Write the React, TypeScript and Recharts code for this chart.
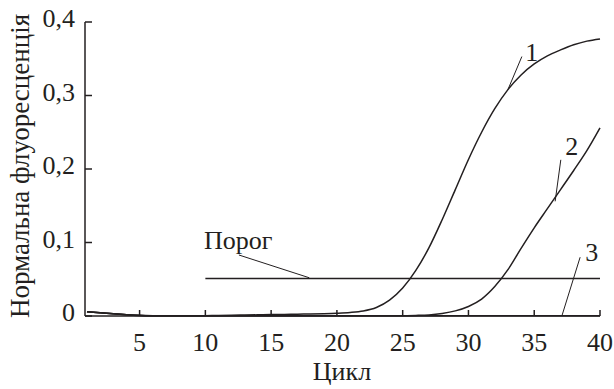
import React from 'react';
import { LineChart, Line, XAxis, YAxis, ReferenceLine, ReferenceDot, Label } from 'recharts';

const cycles = Array.from({ length: 40 }, (_, i) => i + 1);

const curve1 = [
  0.0058, 0.0045, 0.0031, 0.0018, 0.0009, 0.0004, 0.0002, 0.0002, 0.0003, 0.0005,
  0.0008, 0.001, 0.0013, 0.0016, 0.0019, 0.0022, 0.0025, 0.0028, 0.0032, 0.0038,
  0.0048, 0.0068, 0.0115, 0.0215, 0.038, 0.062, 0.093, 0.131, 0.172, 0.213,
  0.25, 0.282, 0.308, 0.328, 0.343, 0.354, 0.362, 0.369, 0.374, 0.377,
];

const curve2 = [
  0.0058, 0.0045, 0.003, 0.0017, 0.0008, 0.0004, 0.0003, 0.0003, 0.0003, 0.0003,
  0.0003, 0.0003, 0.0003, 0.0003, 0.0003, 0.0003, 0.0003, 0.0003, 0.0003, 0.0003,
  0.0003, 0.0003, 0.0003, 0.0004, 0.0005, 0.0008, 0.0015, 0.0035, 0.007, 0.013,
  0.023, 0.04, 0.063, 0.092, 0.12, 0.146, 0.172, 0.198, 0.225, 0.256,
];

const curve3 = [
  0.0058, 0.0045, 0.003, 0.0017, 0.0008, 0.0004, 0.0002, 0.0002, 0.0002, 0.0002,
  0.0002, 0.0002, 0.0002, 0.0002, 0.0002, 0.0002, 0.0002, 0.0002, 0.0002, 0.0002,
  0.0002, 0.0002, 0.0002, 0.0002, 0.0002, 0.0002, 0.0002, 0.0002, 0.0002, 0.0002,
  0.0002, 0.0002, 0.0002, 0.0002, 0.0002, 0.0002, 0.0002, 0.0002, 0.0002, 0.0002,
];

const xTicks = [5, 10, 15, 20, 25, 30, 35, 40];
const yTicks = [0, 0.1, 0.2, 0.3, 0.4];
const threshold = 0.051;
const thresholdStart = 10;
const thresholdEnd = 40;

const xTitle = 'Цикл';
const yTitle = 'Нормальна флуоресценція';
const thresholdLabel = 'Порог';

// annotation anchors in data coordinates
const labelPoints = [
  { text: '1', x: 34.82, y: 0.36 },
  { text: '2', x: 37.86, y: 0.231 },
  { text: '3', x: 39.38, y: 0.0876 },
  { text: thresholdLabel, x: 12.5, y: 0.1035 },
];
const leaders = [
  [{ x: 34.06, y: 0.353 }, { x: 33.0, y: 0.308 }],
  [{ x: 37.02, y: 0.2125 }, { x: 36.59, y: 0.156 }],
  [{ x: 38.49, y: 0.08 }, { x: 37.1, y: 0 }],
  [{ x: 12.55, y: 0.083 }, { x: 17.9, y: 0.052 }],
];

const data = cycles.map((c, i) => ({ cycle: c, c1: curve1[i], c2: curve2[i], c3: curve3[i] }));

const INK = '#231f20';
const FONT = '"Liberation Serif", "DejaVu Serif", serif';
const FS = 26;

const XTick = (props: any) => {
  const { x, y, payload } = props;
  return (
    <g>
      <line x1={x} y1={y} x2={x} y2={y - 6} stroke={INK} strokeWidth={1.5} />
      <text x={x} y={y + 35} textAnchor="middle" fontFamily={FONT} fontSize={FS} fill={INK}>
        {payload.value}
      </text>
    </g>
  );
};

const fmtY = (v: number) => (v === 0 ? '0' : v.toFixed(1).replace('.', ','));

const YTick = (props: any) => {
  const { x, y, payload } = props;
  return (
    <g>
      <line x1={x} y1={y} x2={x + 7} y2={y} stroke={INK} strokeWidth={1.5} />
      <text x={x - 10} y={y + 5} textAnchor="end" fontFamily={FONT} fontSize={FS} fill={INK}>
        {fmtY(payload.value)}
      </text>
    </g>
  );
};

export default function App() {
  return (
    <div style={{ position: 'absolute', left: 0, top: 0, background: '#fff' }}>
      <LineChart
        width={614}
        height={389}
        data={data}
        margin={{ top: 22, right: 14, left: 0, bottom: 0 }}
      >
        <XAxis
          dataKey="cycle"
          type="number"
          domain={[0.85, 40]}
          ticks={xTicks}
          tickSize={0}
          tickMargin={0}
          tickLine={false}
          height={73}
          axisLine={{ stroke: INK, strokeWidth: 1.5 }}
          tick={<XTick />}
          interval={0}
        >
          <Label
            content={() => (
              <text x={342} y={380} textAnchor="middle" fontFamily={FONT} fontSize={FS} fill={INK}>
                {xTitle}
              </text>
            )}
          />
        </XAxis>
        <YAxis
          type="number"
          domain={[0, 0.4]}
          ticks={yTicks}
          tickSize={0}
          tickMargin={0}
          tickLine={false}
          width={85}
          axisLine={{ stroke: INK, strokeWidth: 1.5 }}
          tick={<YTick />}
          interval={0}
        >
          <Label
            content={() => (
              <text
                x={0}
                y={0}
                transform="translate(29 166) rotate(-90)"
                textAnchor="middle"
                fontFamily={FONT}
                fontSize={27}
                fill={INK}
              >
                {yTitle}
              </text>
            )}
          />
        </YAxis>
        <ReferenceLine
          segment={[
            { x: thresholdStart, y: threshold },
            { x: thresholdEnd, y: threshold },
          ]}
          stroke={INK}
          strokeWidth={1.5}
        />
        {leaders.map((seg, i) => (
          <ReferenceLine key={'l' + i} segment={seg} stroke={INK} strokeWidth={1} />
        ))}
        <Line type="monotone" dataKey="c3" stroke={INK} strokeWidth={1.5} dot={false} isAnimationActive={false} />
        <Line type="monotone" dataKey="c2" stroke={INK} strokeWidth={1.5} dot={false} isAnimationActive={false} />
        <Line type="monotone" dataKey="c1" stroke={INK} strokeWidth={1.5} dot={false} isAnimationActive={false} />
        {labelPoints.map((p, i) => (
          <ReferenceDot
            key={'t' + i}
            x={p.x}
            y={p.y}
            r={0}
            fill="none"
            stroke="none"
            label={(lp: any) => {
              const vb = lp.viewBox || {};
              const cx = (vb.x ?? 0) + (vb.width ?? 0) / 2;
              const cy = (vb.y ?? 0) + (vb.height ?? 0) / 2;
              return (
                <text x={cx} y={cy} dy="0.35em" textAnchor="middle" fontFamily={FONT} fontSize={FS} fill={INK}>
                  {p.text}
                </text>
              );
            }}
          />
        ))}
      </LineChart>
    </div>
  );
}
